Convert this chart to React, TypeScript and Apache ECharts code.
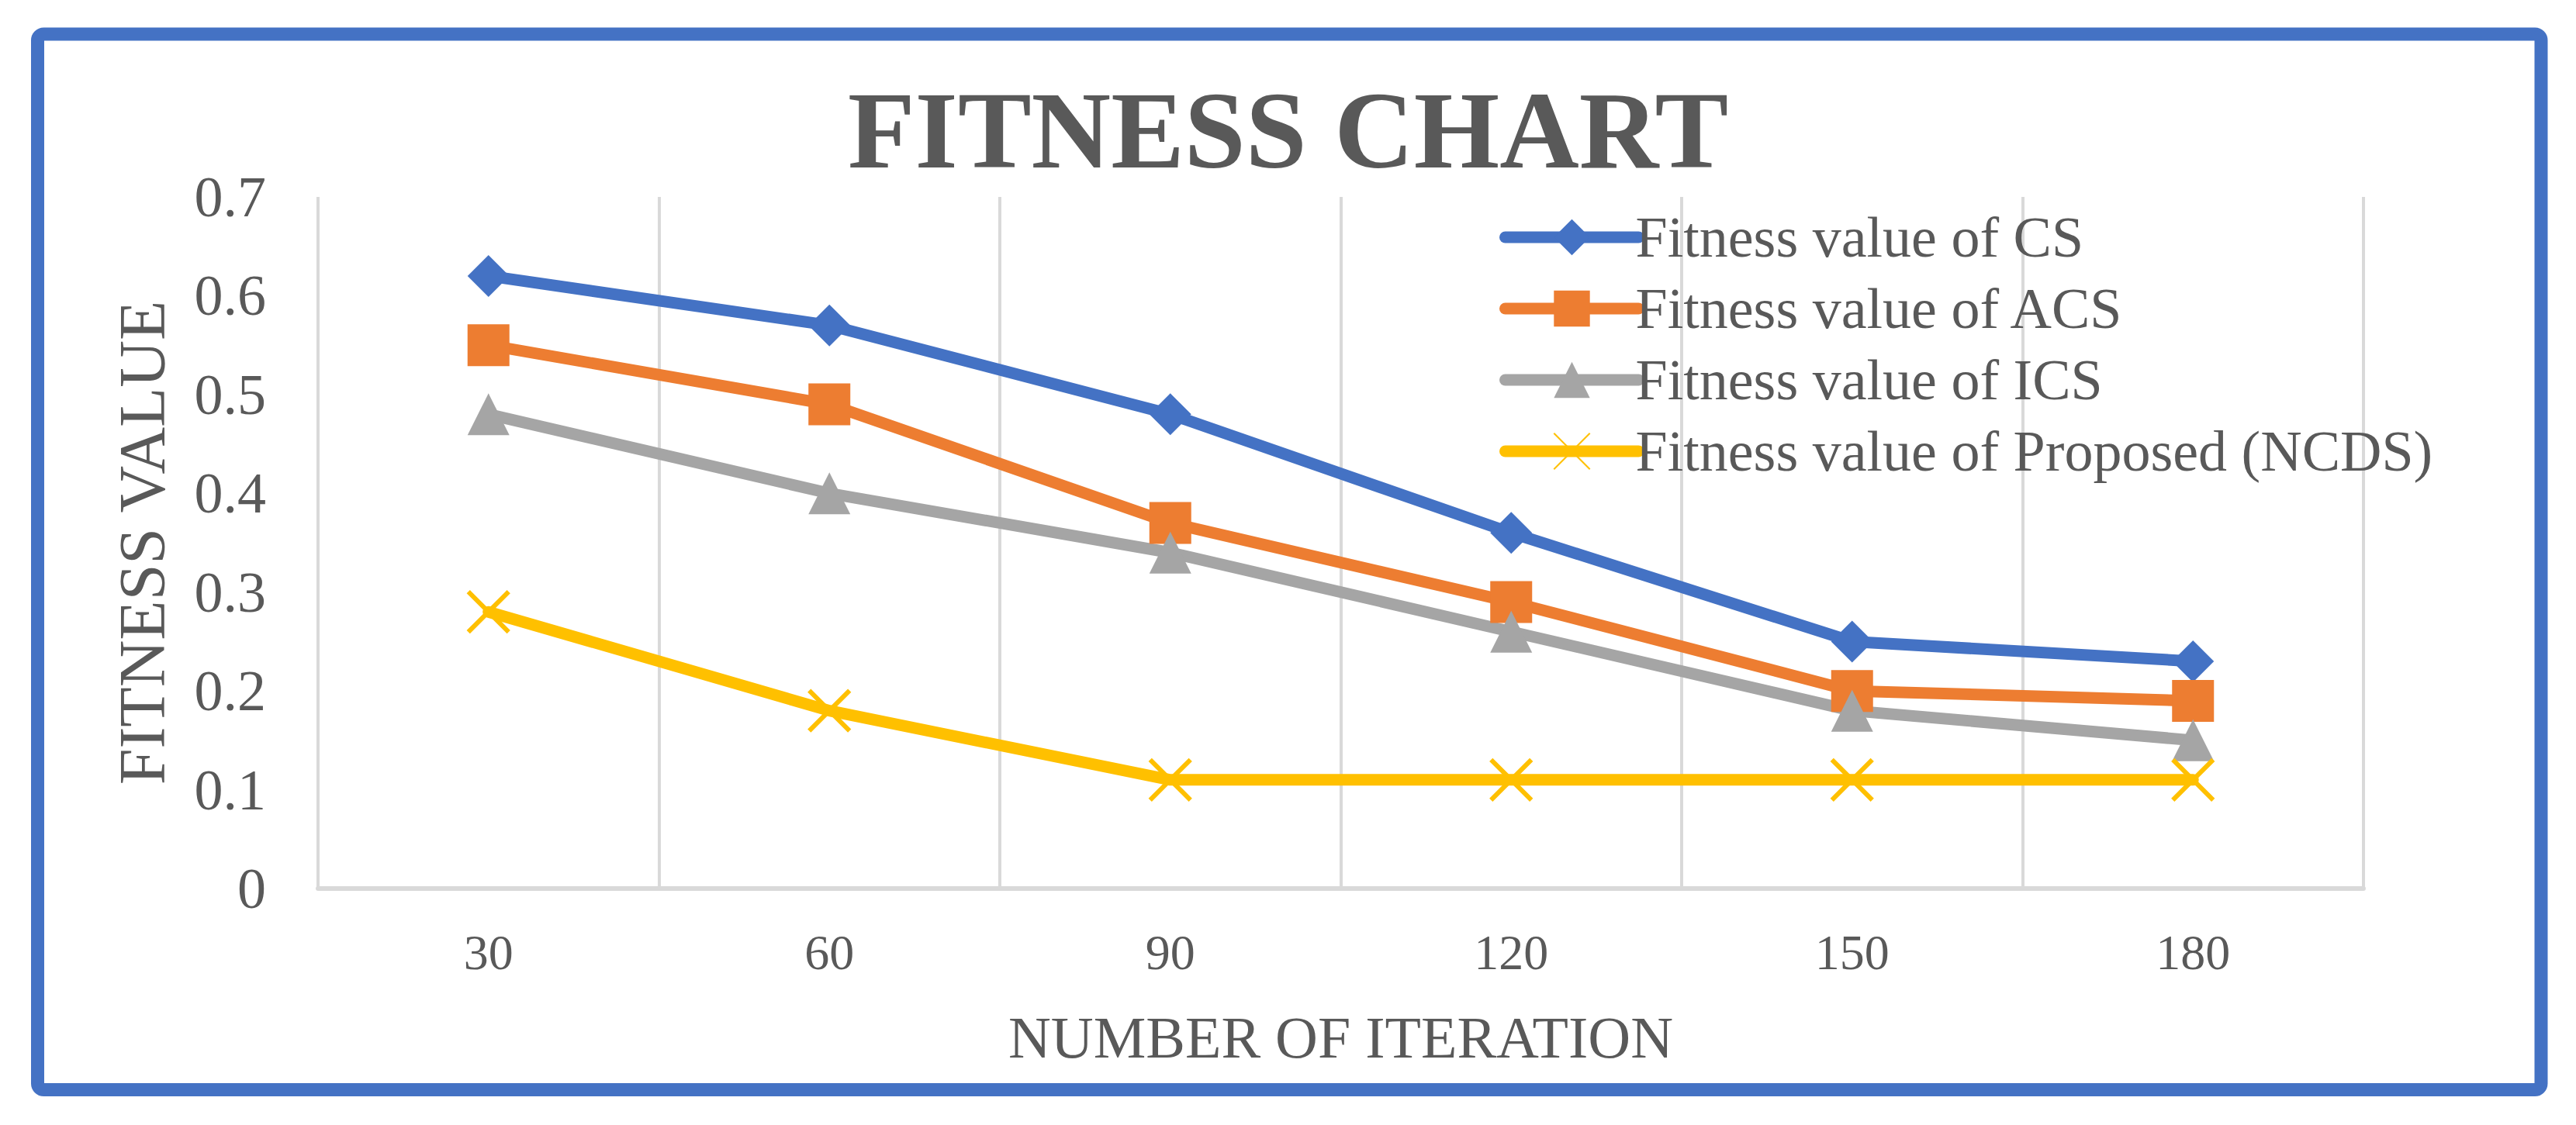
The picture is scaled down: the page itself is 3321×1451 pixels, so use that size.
import React, { useEffect, useRef } from "react";
import * as echarts from "echarts";

const categories = ["30", "60", "90", "120", "150", "180"];
const csValues = [0.62, 0.57, 0.48, 0.36, 0.25, 0.23];
const acsValues = [0.55, 0.49, 0.37, 0.29, 0.2, 0.19];
const icsValues = [0.48, 0.4, 0.34, 0.26, 0.18, 0.15];
const ncdsValues = [0.28, 0.18, 0.11, 0.11, 0.11, 0.11];
const seriesNames = [
  "Fitness value of CS",
  "Fitness value of ACS",
  "Fitness value of ICS",
  "Fitness value of Proposed (NCDS)",
];
const seriesColors = ["#4472C4", "#ED7D31", "#A5A5A5", "#FFC000"];
const yMin = 0;
const yMax = 0.7;
const yStep = 0.1;

const FONT = "'Liberation Serif', 'Times New Roman', serif";
const TEXT = "#595959";
const GRID = "#D9D9D9";

export default function App() {
  const ref = useRef<HTMLDivElement>(null);
  useEffect(() => {
    if (!ref.current) return;
    const chart = echarts.init(ref.current, undefined, { renderer: "svg" });
    const values = [csValues, acsValues, icsValues, ncdsValues];
    const symbols = ["diamond", "rect", "triangle", "path://M0,0L10,10M10,0L0,10"];
    chart.setOption({
      animation: false,
      backgroundColor: "#FFFFFF",
      title: {
        text: "FITNESS CHART",
        left: "center",
        top: 92,
        textStyle: {
          fontFamily: FONT,
          fontWeight: "bold",
          fontSize: 142,
          color: TEXT,
        },
      },
      legend: {
        orient: "vertical",
        left: 1928,
        top: 264,
        itemWidth: 172,
        itemHeight: 58,
        itemGap: 18,
        data: seriesNames,
        lineStyle: { width: 15, cap: "round" },
        textStyle: { fontFamily: FONT, fontSize: 74, color: TEXT, padding: [0, 0, 0, -9] },
      },
      grid: { left: 410, right: 274, top: 254, bottom: 305, containLabel: false },
      xAxis: {
        type: "category",
        data: categories,
        boundaryGap: true,
        name: "NUMBER OF ITERATION",
        nameLocation: "middle",
        nameGap: 154,
        nameTextStyle: { fontFamily: FONT, fontSize: 76, color: TEXT },
        axisLine: { show: true, lineStyle: { color: GRID, width: 6 } },
        axisTick: { show: false },
        axisLabel: { fontFamily: FONT, fontSize: 64, color: TEXT, margin: 50, interval: 0 },
        splitLine: { show: true, interval: 0, lineStyle: { color: GRID, width: 4 } },
      },
      yAxis: {
        type: "value",
        min: yMin,
        max: yMax,
        interval: yStep,
        name: "FITNESS VALUE",
        nameLocation: "middle",
        nameGap: 185,
        nameTextStyle: { fontFamily: FONT, fontSize: 84, color: TEXT },
        axisLine: { show: false },
        axisTick: { show: false },
        splitLine: { show: false },
        axisLabel: {
          fontFamily: FONT,
          fontSize: 74,
          color: TEXT,
          margin: 67,
          formatter: (v: number) => String(Math.round(v * 10) / 10),
        },
      },
      graphic: [
        {
          type: "rect",
          shape: { x: 48.5, y: 44, width: 3227.5, height: 1361.5, r: 8 },
          style: { fill: "none", stroke: "#4472C4", lineWidth: 17 },
          silent: true,
          z: 100,
        },
      ],
      series: values.map((d, i) => ({
        name: seriesNames[i],
        type: "line",
        data: d,
        symbol: symbols[i],
        symbolSize: i === 3 ? [52, 52] : 54,
        showSymbol: true,
        lineStyle: { color: seriesColors[i], width: 15, cap: "round", join: "round" },
        itemStyle:
          i === 3
            ? { color: seriesColors[i], borderColor: seriesColors[i], borderWidth: 6 }
            : { color: seriesColors[i], borderWidth: 0 },
        emphasis: { disabled: true },
      })),
    });
    return () => chart.dispose();
  }, []);
  return (
    <div
      ref={ref}
      style={{ position: "fixed", left: 0, top: 0, width: 3321, height: 1451 }}
    />
  );
}
